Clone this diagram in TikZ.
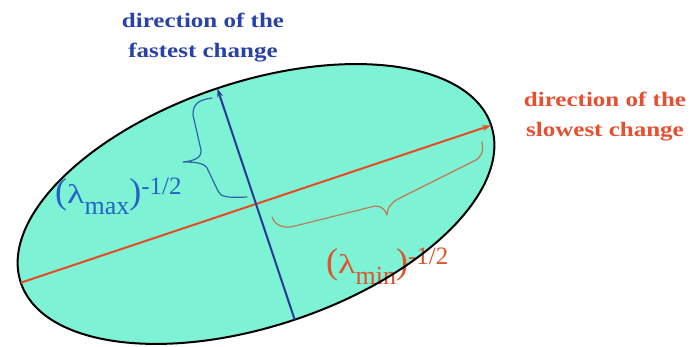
\documentclass[tikz,border=0pt]{standalone}
\usepackage{fontspec}
\setmainfont{Liberation Serif}
\newfontfamily\ttlfont[FakeStretch=1.22]{Liberation Serif}
\usetikzlibrary{shapes.geometric,arrows.meta,calc}
\definecolor{fillc}{RGB}{125,242,212}
\definecolor{orline}{RGB}{232,74,34}
\definecolor{blline}{RGB}{40,58,150}
\definecolor{bltext}{RGB}{40,66,168}
\definecolor{ortext}{RGB}{228,80,48}
\definecolor{maxc}{RGB}{38,98,196}
\definecolor{minc}{RGB}{222,84,40}
\definecolor{bbrace}{RGB}{50,98,170}
\definecolor{obrace}{RGB}{190,122,80}
\newcommand\mylam{\scalebox{1}[0.75]{λ}}
\newcommand\mylab[1]{{\fontsize{36}{36}\selectfont(\mylam\raisebox{-11pt}{\fontsize{26}{26}\selectfont #1})\raisebox{9pt}{\fontsize{25}{25}\selectfont -1/2}}}
\tikzset{
  ellshape/.style={ellipse, minimum width=496pt, minimum height=244pt, inner sep=0pt, outer sep=0pt, rotate=18.5},
  axisline/.style={line width=2pt, -{Stealth[length=9pt,width=6pt]}},
  title/.style={align=center, font=\ttlfont\bfseries\fontsize{20.5}{30}\selectfont, inner sep=0pt},
  lab/.style={anchor=base west, inner sep=0pt},
  bracestyle/.style={line width=1.2pt, line cap=round, line join=round}
}
\begin{document}
\begin{tikzpicture}[x=1pt,y=1pt]
\useasboundingbox[fill=white] (0,0) rectangle (692,347);
\node[ellshape, fill=fillc] (ell) at (256,143) {};
\node[lab, text=maxc] (lmax) at (55,143.5) {\mylab{max}};
\node[lab, text=minc] (lmin) at (326,73) {\mylab{min}};
\node[ellshape, draw=black, line width=2pt] (ellout) at (256,143) {};
\draw[axisline, orline] (ell.west) -- (ell.east);
\draw[axisline, blline] (ell.south) -- (ell.north);
% blue brace
\draw[bracestyle, bbrace] (212,249) .. controls (198,247) and (193,243) .. (193,232)
  -- (201,197) .. controls (202,190) and (195,186) .. (183,185)
  .. controls (196,185) and (206,184) .. (208,177)
  -- (218,156) .. controls (220,150) and (228,149) .. (247,150);
% orange brace
\draw[bracestyle, obrace] (482,205) .. controls (484,195) and (481,189) .. (474,186)
  -- (398,148) .. controls (391,144) and (387,139) .. (387,132)
  .. controls (385,138) and (381,141) .. (375,141)
  -- (295,121) .. controls (285,118) and (275,121) .. (272,130);
\node[title, text=bltext] (tfast) at (203,309) {direction of the\\fastest change};
\node[title, text=ortext] (tslow) at (605,230) {direction of the\\slowest change};
\end{tikzpicture}
\end{document}
